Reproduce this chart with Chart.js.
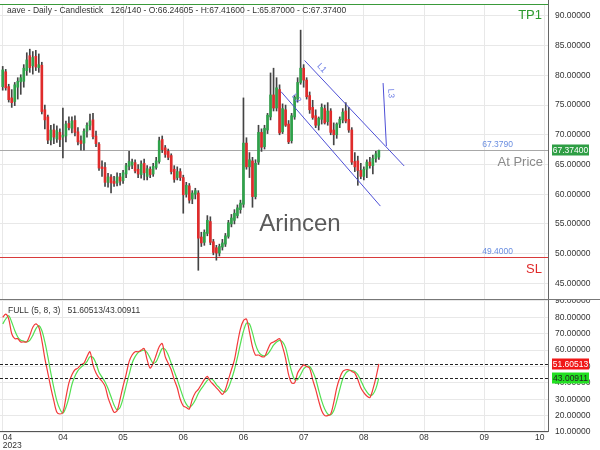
<!DOCTYPE html>
<html>
<head>
<meta charset="utf-8">
<script src="https://cdn.jsdelivr.net/npm/chart.js@4.4.0/dist/chart.umd.min.js"></script>
<style>
body { margin: 0; background: #fff; }
#wrap { position: relative; width: 600px; height: 450px; }
#priceChart { position: absolute; left: 0; top: 0; }
#stochChart { position: absolute; left: 0; top: 300px; }
</style>
</head>
<body>
<div id="wrap">
<canvas id="priceChart" width="600" height="300"></canvas>
<canvas id="stochChart" width="600" height="150"></canvas>
</div>
<script>
// daily aave candles (126 visible of 140)
var opens = [
  78.1, 80.6, 78.1, 76.2, 75.6, 78.0, 78.9, 79.0, 80.8, 83.3,
  81.6, 83.2, 81.3, 81.7, 74.2, 73.0, 69.1, 70.8, 69.3, 70.4,
  69.6, 69.8, 71.9, 71.1, 72.4, 70.5, 69.0, 68.6, 70.6, 71.6,
  72.5, 69.8, 68.4, 64.6, 64.5, 62.0, 62.9, 62.2, 61.9, 62.9,
  62.3, 63.4, 64.7, 64.9, 65.3, 64.2, 63.3, 65.2, 63.0, 64.2,
  63.4, 64.5, 65.5, 69.2, 67.8, 67.2, 66.5, 64.2, 62.8, 63.8,
  62.8, 60.0, 61.4, 59.2, 60.0, 60.2, 52.8, 51.9, 53.4, 55.4,
  52.0, 51.0, 50.1, 51.1, 51.6, 52.9, 55.0, 55.6, 56.4, 57.4,
  58.3, 68.6, 64.6, 65.6, 59.6, 65.4, 70.4, 68.0, 70.8, 73.0,
  76.7, 74.5, 77.6, 70.5, 74.2, 71.8, 69.0, 73.0, 76.0, 78.8,
  81.2, 79.2, 76.6, 74.6, 73.2, 71.6, 72.6, 74.4, 72.2, 74.0,
  70.8, 70.0, 71.8, 72.5, 74.0, 72.6, 70.8, 65.5, 65.6, 64.0,
  63.0, 64.2, 65.4, 64.8, 66.0, 66.24605
];
var highs = [
  81.5, 81.0, 78.5, 77.6, 78.8, 79.6, 80.1, 81.8, 83.8, 84.4,
  84.0, 84.2, 83.6, 82.2, 75.0, 73.3, 71.6, 71.8, 71.5, 71.0,
  74.5, 72.3, 73.0, 73.0, 73.2, 71.2, 69.8, 71.0, 72.0, 73.5,
  73.6, 70.6, 68.7, 65.6, 65.3, 63.5, 63.3, 63.0, 63.6, 63.5,
  64.0, 65.2, 67.2, 65.9, 65.8, 65.0, 65.6, 65.9, 64.8, 64.6,
  65.2, 66.2, 69.6, 69.8, 68.2, 67.6, 66.8, 64.8, 64.6, 64.3,
  63.2, 62.0, 61.8, 60.6, 61.0, 60.6, 53.6, 54.0, 56.4, 56.2,
  52.4, 51.4, 51.6, 52.4, 53.4, 55.6, 56.6, 57.4, 58.2, 59.0,
  76.2, 69.5, 67.0, 66.2, 65.8, 71.6, 71.0, 71.6, 73.6, 80.4,
  81.2, 79.6, 78.4, 75.2, 75.0, 72.4, 73.6, 76.6, 79.6, 87.6,
  81.8, 79.6, 77.2, 75.8, 74.2, 73.0, 75.2, 75.0, 75.4, 74.4,
  72.0, 72.0, 73.0, 74.4, 75.4, 74.6, 71.2, 67.0, 66.4, 65.2,
  64.6, 65.8, 66.2, 66.6, 67.2, 67.416
];
var lows = [
  77.5, 77.5, 75.5, 74.6, 74.9, 76.0, 76.8, 78.0, 80.0, 80.5,
  80.2, 80.8, 80.5, 73.5, 71.0, 68.5, 68.3, 68.5, 68.7, 68.0,
  66.1, 68.8, 70.8, 70.3, 69.8, 68.3, 67.4, 67.4, 69.6, 70.8,
  69.3, 68.0, 64.0, 63.0, 61.3, 61.2, 60.2, 61.3, 61.4, 61.5,
  61.8, 62.8, 64.1, 64.3, 63.6, 62.8, 62.7, 62.4, 62.4, 62.8,
  63.0, 64.2, 65.2, 67.0, 66.2, 65.8, 63.4, 62.0, 62.4, 62.3,
  56.8, 59.5, 58.5, 58.4, 59.2, 47.2, 51.2, 51.4, 53.0, 51.5,
  49.8, 48.9, 49.6, 50.6, 51.2, 52.6, 54.5, 55.0, 56.0, 56.8,
  57.8, 64.2, 62.8, 57.8, 59.2, 65.0, 67.2, 67.6, 70.2, 72.5,
  74.0, 74.0, 70.0, 70.2, 71.4, 68.5, 68.6, 72.6, 75.5, 78.5,
  78.0, 76.0, 73.6, 72.6, 71.2, 70.8, 71.8, 71.8, 71.6, 70.0,
  68.3, 69.4, 71.2, 72.0, 72.0, 70.4, 65.0, 63.8, 61.5, 62.6,
  62.4, 62.8, 64.4, 63.4, 65.4, 65.87
];
var closes = [
  80.9, 77.9, 75.9, 75.4, 78.4, 79.0, 79.6, 81.2, 82.6, 81.3,
  83.0, 81.4, 81.8, 73.9, 72.5, 69.1, 70.8, 69.6, 70.7, 69.2,
  69.9, 71.8, 71.2, 72.3, 70.4, 68.8, 68.5, 70.6, 71.6, 72.3,
  69.7, 68.5, 64.4, 64.3, 62.0, 62.9, 61.9, 61.8, 62.9, 62.2,
  63.6, 64.8, 65.5, 65.4, 63.9, 63.4, 65.1, 63.6, 64.3, 63.3,
  64.7, 65.6, 69.0, 67.5, 66.7, 66.2, 63.8, 62.5, 63.8, 62.8,
  59.9, 61.5, 59.0, 60.2, 60.6, 52.6, 51.8, 53.6, 55.6, 51.9,
  50.2, 50.1, 51.2, 51.8, 53.0, 55.2, 56.0, 56.8, 57.7, 58.5,
  68.6, 64.6, 65.8, 59.6, 65.2, 70.4, 67.9, 71.1, 73.3, 76.7,
  74.5, 77.9, 70.3, 74.4, 71.6, 68.8, 73.2, 76.3, 78.8, 81.2,
  79.2, 76.4, 74.2, 72.9, 71.6, 72.8, 74.6, 72.0, 74.0, 70.4,
  70.0, 71.8, 72.6, 73.8, 72.3, 70.8, 65.4, 64.6, 64.0, 63.0,
  64.2, 65.4, 64.8, 66.0, 66.8, 67.374
];

// full stochastic (5, 8, 3)
var stochK = [
  80, 82, 79, 70, 67, 67, 65, 65, 65, 69,
  74, 76, 74, 66, 55, 46, 37, 29, 22, 21,
  22, 31, 40, 45, 48, 49, 51, 52, 56, 59,
  51, 46, 43, 41, 38, 31, 26, 22, 23, 30,
  38, 45, 53, 57, 59, 59, 60, 61, 54, 49,
  52, 57, 62, 64, 56, 52, 48, 42, 37, 30,
  26, 25, 24, 30, 34, 36, 39, 42, 44, 41,
  39, 37, 35, 33, 36, 42, 48, 54, 64, 73,
  78, 79, 71, 62, 57, 57, 56, 56, 60, 64,
  65, 66, 67, 62, 55, 45, 40, 40, 46, 49,
  51, 50, 49, 42, 36, 29, 23, 20, 20, 21,
  28, 37, 43, 47, 48, 48, 47, 46, 42, 37,
  34, 32, 31, 36, 43, 51.60513
];
var stochD = [
  76, 79, 81, 77, 72, 68, 66, 65.5, 65, 66,
  69, 73, 75, 72, 65, 56, 46, 37, 29, 24,
  21.5, 25, 31, 39, 44, 47.5, 49.5, 51, 53, 56,
  55.5, 52, 46.5, 43.5, 40.5, 36.5, 31.5, 26.5, 23.5, 25,
  30.5, 38, 45, 52, 56, 58.5, 59.5, 60, 58.5, 55,
  52, 53, 57, 61, 60.5, 57, 52, 47, 42, 36.5,
  31, 27, 25, 26.5, 29.5, 33.5, 36.5, 39, 41.5, 42.5,
  41.5, 39, 37, 35, 34.5, 37, 42, 48, 55.5, 64,
  71.5, 76.5, 76, 70.5, 63.5, 59, 57, 56.5, 57.5, 60,
  63, 65, 66, 65, 61.5, 54, 47, 42, 42, 45,
  48.5, 50, 50, 47, 42.5, 35.5, 29, 24, 21, 20.5,
  23, 29, 36, 42.5, 46, 47.5, 47.5, 47, 45, 41.5,
  37.5, 34.5, 32.5, 33, 36.5, 43.00911
];

var tickDays = [0, 20, 40, 60, 80, 100, 120, 140, 160, 180];
var monthLabels = ['04', '04', '05', '06', '06', '07', '08', '08', '09', '10'];
var yearLabel = '2023';
var priceTicks = [45, 50, 55, 60, 65, 70, 75, 80, 85, 90];
var stochTicks = [10, 20, 30, 40, 50, 60, 70, 80, 90];

var atPriceLevel = 67.379;
var stopLevel = 49.4;
var tpLevel = 92;
// trend channel lines, [day, price] end points
var lineL1 = [[100.3, 82.5], [133.4, 64.75]];
var lineL2 = [[92.5, 77.25], [125.5, 58.0]];
var lineL3 = [[126.4, 78.7], [127.5, 68.1]];

var FONT = "'Liberation Sans', Arial, sans-serif";
Chart.defaults.font.family = FONT;
Chart.defaults.font.size = 8.5;
Chart.defaults.color = '#333';

var xMin = -0.9, xMax = 181.2;
var n = closes.length;
var days = closes.map(function (c, i) { return i; });
var last = n - 1;

function hLine(c, x1, x2, y, color, dash) {
  c.save();
  c.strokeStyle = color;
  c.lineWidth = 1;
  if (dash) c.setLineDash(dash);
  var yy = Math.round(y) + 0.5;
  c.beginPath();
  c.moveTo(x1, yy);
  c.lineTo(x2, yy);
  c.stroke();
  c.restore();
}
function vLine(c, x, y1, y2, color) {
  c.save();
  c.strokeStyle = color;
  c.lineWidth = 1;
  var xx = Math.round(x) + 0.5;
  c.beginPath();
  c.moveTo(xx, y1);
  c.lineTo(xx, y2);
  c.stroke();
  c.restore();
}
function txt(c, s, x, y, size, color, align, base) {
  c.save();
  c.font = size + 'px ' + FONT;
  c.fillStyle = color;
  c.textAlign = align || 'left';
  c.textBaseline = base || 'middle';
  c.fillText(s, x, y);
  c.restore();
}
function valueBox(c, s, x, y, bg, fg) {
  c.save();
  c.fillStyle = bg;
  c.fillRect(x, Math.round(y) - 5.5, 37, 11);
  c.restore();
  txt(c, s, x + 18.5, y + 0.5, 8.5, fg, 'center', 'middle');
}
function trendLine(chart, pts, label, frac) {
  var c = chart.ctx, xs = chart.scales.x, ys = chart.scales.y;
  var x1 = xs.getPixelForValue(pts[0][0]), y1 = ys.getPixelForValue(pts[0][1]);
  var x2 = xs.getPixelForValue(pts[1][0]), y2 = ys.getPixelForValue(pts[1][1]);
  c.save();
  c.strokeStyle = '#4d4fd6';
  c.lineWidth = 1;
  c.beginPath();
  c.moveTo(x1, y1);
  c.lineTo(x2, y2);
  c.stroke();
  var ang = Math.atan2(y2 - y1, x2 - x1);
  c.translate(x1 + (x2 - x1) * frac, y1 + (y2 - y1) * frac);
  c.rotate(ang);
  c.font = '8.5px ' + FONT;
  c.fillStyle = '#6f7fe6';
  c.textAlign = 'center';
  c.textBaseline = 'bottom';
  c.fillText(label, 0, -3);
  c.restore();
}

var pricePlugin = {
  id: 'priceOverlay',
  beforeDatasetsDraw: function (chart) {
    var c = chart.ctx, a = chart.chartArea, y = chart.scales.y;
    hLine(c, a.left, a.right, y.getPixelForValue(atPriceLevel), '#a8a8a8');
    hLine(c, a.left, a.right, y.getPixelForValue(stopLevel), '#d83a3a');
    txt(c, 'Arincen', 300, 224, 24, '#5a5a5a', 'center', 'middle');
  },
  afterDatasetsDraw: function (chart) {
    var c = chart.ctx, a = chart.chartArea, y = chart.scales.y;
    hLine(c, 0, a.right, y.getPixelForValue(tpLevel) - 0.5, '#3a9a3a');
    trendLine(chart, lineL1, 'L1', 0.12);
    trendLine(chart, lineL2, 'L2', 0.1);
    trendLine(chart, lineL3, 'L3', 0.17);

    var pA = y.getPixelForValue(atPriceLevel), pS = y.getPixelForValue(stopLevel);
    txt(c, atPriceLevel.toFixed(4), a.right - 35, pA - 1, 8.5, '#6a8ee0', 'right', 'bottom');
    txt(c, 'At Price', a.right - 5, pA + 12, 13, '#8a8a8a', 'right', 'middle');
    txt(c, stopLevel.toFixed(4), a.right - 35, pS - 1, 8.5, '#6a8ee0', 'right', 'bottom');
    txt(c, 'SL', a.right - 6, pS + 12, 13, '#e02a2a', 'right', 'middle');
    txt(c, 'TP1', a.right - 6, a.top + 11, 13, '#2e9a2e', 'right', 'middle');

    var title = 'aave - Daily - Candlestick   ' + n + '/140 - O:' + opens[last].toFixed(5) +
      ' - H:' + highs[last].toFixed(5) + ' - L:' + lows[last].toFixed(5) + ' - C:' + closes[last].toFixed(5);
    txt(c, title, 7, 11, 8.5, '#333', 'left', 'middle');

    vLine(c, a.right, 0, 300, '#666');
    hLine(c, 0, 600, 299, '#777');
    valueBox(c, closes[last].toFixed(5), a.right + 4, y.getPixelForValue(closes[last]), '#2e9e44', '#fff');
  }
};

var stochPlugin = {
  id: 'stochOverlay',
  afterDatasetsDraw: function (chart) {
    var c = chart.ctx, a = chart.chartArea, y = chart.scales.y;
    var kv = stochK[last], dv = stochD[last];
    hLine(c, a.left, a.right, y.getPixelForValue(kv), '#222', [3, 2]);
    hLine(c, a.left, a.right, y.getPixelForValue(dv), '#222', [3, 2]);
    txt(c, 'FULL (5, 8, 3)   ' + kv.toFixed(5) + '/' + dv.toFixed(5), 8, 11, 8.5, '#333', 'left', 'middle');
    vLine(c, a.right, 0, a.bottom, '#666');
    hLine(c, a.left, a.right, a.bottom - 1, '#555');
    valueBox(c, kv.toFixed(5), a.right + 4, y.getPixelForValue(kv), '#f01818', '#fff');
    valueBox(c, dv.toFixed(5), a.right + 4, y.getPixelForValue(dv), '#22e022', '#222');
  }
};

var bodyData = days.map(function (i) { return { x: i, y: [opens[i], closes[i]] }; });
var wickData = days.map(function (i) { return { x: i, y: [lows[i], highs[i]] }; });
var bodyColors = days.map(function (i) { return closes[i] >= opens[i] ? '#2fa24a' : '#df2b2b'; });

function setTicks(list) {
  return function (s) { s.ticks = list.map(function (v) { return { value: v }; }); };
}
// keep the plot area fixed: no extra room for half labels
function fixWidth(s) {
  s.width = 52;
  s.paddingTop = 0;
  s.paddingBottom = 0;
}

new Chart(document.getElementById('priceChart'), {
  type: 'bar',
  data: {
    datasets: [
      { data: bodyData, backgroundColor: bodyColors, barThickness: 2, grouped: false, minBarLength: 1 },
      { data: wickData, backgroundColor: '#444', barThickness: 1, grouped: false }
    ]
  },
  options: {
    responsive: false,
    animation: false,
    layout: { autoPadding: false, padding: { top: 4, left: 0, right: 0, bottom: 0 } },
    plugins: { legend: { display: false }, tooltip: { enabled: false } },
    scales: {
      x: {
        type: 'linear', min: xMin, max: xMax, offset: false,
        grid: { color: '#e8e8e8', drawTicks: false, offset: false },
        border: { display: false },
        ticks: { display: false },
        afterBuildTicks: setTicks(tickDays),
        afterFit: function (s) { s.height = 0; s.paddingLeft = 0; s.paddingRight = 0; }
      },
      y: {
        position: 'right', min: 42.2, max: tpLevel,
        grid: { color: '#e8e8e8', drawTicks: false },
        border: { display: false },
        ticks: { padding: 7, color: '#333', callback: function (v) { return v.toFixed(5); } },
        afterBuildTicks: setTicks(priceTicks),
        afterFit: fixWidth
      }
    }
  },
  plugins: [pricePlugin]
});

new Chart(document.getElementById('stochChart'), {
  type: 'line',
  data: {
    datasets: [
      { data: days.map(function (i) { return { x: i, y: stochK[i] }; }), borderColor: '#f23a3a', borderWidth: 1.2, pointRadius: 0, tension: 0.3 },
      { data: days.map(function (i) { return { x: i, y: stochD[i] }; }), borderColor: '#52e052', borderWidth: 1.2, pointRadius: 0, tension: 0.3 }
    ]
  },
  options: {
    responsive: false,
    animation: false,
    layout: { autoPadding: false, padding: 0 },
    plugins: { legend: { display: false }, tooltip: { enabled: false } },
    scales: {
      x: {
        type: 'linear', min: xMin, max: xMax,
        grid: { color: '#e8e8e8', drawTicks: false },
        border: { display: false },
        ticks: {
          padding: 1, align: 'inner', maxRotation: 0, autoSkip: false, color: '#333',
          font: { size: 8.5, lineHeight: 1 },
          callback: function (v, idx) { return idx === 0 ? [monthLabels[0], yearLabel] : monthLabels[idx]; }
        },
        afterBuildTicks: setTicks(tickDays),
        afterFit: function (s) { s.height = 18; s.paddingLeft = 0; s.paddingRight = 0; }
      },
      y: {
        position: 'right', min: 10, max: 90.6,
        grid: { color: '#e8e8e8', drawTicks: false },
        border: { display: false },
        ticks: { padding: 7, color: '#333', callback: function (v) { return v.toFixed(5); } },
        afterBuildTicks: setTicks(stochTicks),
        afterFit: fixWidth
      }
    }
  },
  plugins: [stochPlugin]
});
</script>
</body>
</html>
